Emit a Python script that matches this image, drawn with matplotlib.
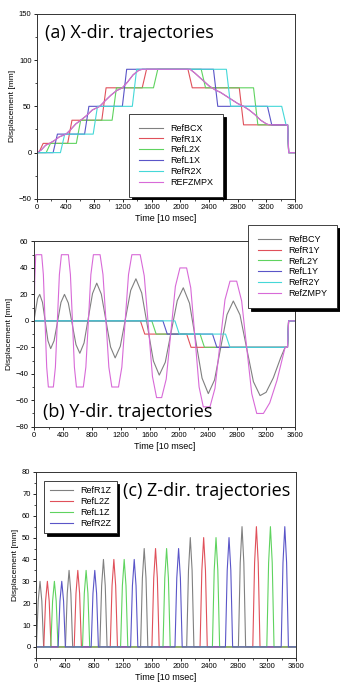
import matplotlib
matplotlib.use("Agg")
import matplotlib.pyplot as plt
from matplotlib.ticker import MultipleLocator

# ---- (a) X-direction trajectories ----
body_x_t = [0, 60, 120, 175, 240, 310, 405, 470, 540, 610, 690, 770, 875, 950, 1030, 1110, 1190, 1260, 1340, 1420,
            1470, 2135, 2200, 2300, 2400, 2480, 2560, 2640, 2720, 2800, 2880, 2960, 3040, 3120, 3200, 3240, 3495, 3510, 3600]
body_x = [0, 3, 8, 10, 13, 17, 20, 25, 31, 35, 40, 46, 50, 56, 62, 67, 70, 76, 84, 89,
          90, 90, 86, 79, 72, 68, 65, 61, 57, 53, 50, 46, 41, 35, 31, 30, 30, 0, 0]
zmp_x = [0, 3, 8, 10, 13, 17, 20, 25, 31, 35, 40, 46, 50, 56, 62, 67, 70, 76, 84, 89,
         90, 90, 86, 79, 72, 68, 65, 61, 57, 53, 50, 46, 41, 35, 31, 30, 30, 0, 0]

r1x_t = [0, 25, 85, 427, 487, 903, 963, 1467, 1527, 2105, 2165, 2821, 2881, 3495, 3510, 3600]
r1x = [0, 0, 10, 10, 35, 35, 70, 70, 90, 90, 70, 70, 30, 30, 0, 0]
l2x_t = [0, 127, 187, 548, 608, 1047, 1107, 1624, 1684, 2290, 2350, 3020, 3080, 3495, 3510, 3600]
l2x = [0, 0, 10, 10, 35, 35, 70, 70, 90, 90, 70, 70, 30, 30, 0, 0]
l1x_t = [0, 224, 284, 663, 723, 1190, 1250, 2461, 2521, 3214, 3274, 3495, 3510, 3600]
l1x = [0, 0, 20, 20, 50, 50, 90, 90, 50, 50, 30, 30, 0, 0]
r2x_t = [0, 326, 386, 783, 843, 1329, 1389, 2641, 2701, 3413, 3473, 3495, 3510, 3600]
r2x = [0, 0, 20, 20, 50, 50, 90, 90, 50, 50, 30, 30, 0, 0]

# ---- (b) Y-direction trajectories ----
body_y_t = [0, 25, 50, 79, 117, 155, 192, 230, 277, 325, 372, 420, 473, 526, 579, 632, 690, 748, 807, 865,
            928, 992, 1055, 1119, 1190, 1262, 1333, 1405, 1485, 1566, 1646, 1727, 1810, 1892, 1975, 2058, 2144, 2230, 2317, 2403,
            2489, 2575, 2661, 2748, 2840, 2932, 3025, 3117, 3200, 3300, 3400, 3462, 3495, 3510, 3600]
body_y = [0, 9, 17, 20, 14, -0.5, -15, -21, -15, -0.5, 14, 20, 13.5, -2.2, -18, -24.5, -16.7, 2, 20.7, 28.5,
          20.2, 0.2, -19.7, -28, -19.2, 1.9, 23, 31.8, 21.1, -4.6, -30.3, -41, -31.3, -8, 15.3, 25, 13.3, -15, -43.3, -55,
          -44.7, -20, 4.7, 15, 4.5, -20.7, -46, -56.5, -54, -43, -28, -20, -20, 0, 0]
zmp_y_t = [0, 10, 24, 106, 129, 152, 175, 198, 267, 295, 322, 350, 378, 474, 502, 530, 557, 585, 680, 715,
           750, 784, 819, 911, 951, 992, 1032, 1073, 1165, 1211, 1257, 1303, 1349, 1464, 1520, 1577, 1633, 1690, 1760, 1823,
           1886, 1949, 2012, 2104, 2161, 2219, 2276, 2334, 2426, 2495, 2564, 2633, 2702, 2794, 2863, 2932, 3002, 3071, 3163, 3250,
           3350, 3462, 3495, 3510, 3600]
zmp_y = [0, 30, 50, 50, 35, 0, -35, -50, -50, -35, 0, 35, 50, 50, 35, 0, -35, -50, -50, -35,
         0, 35, 50, 50, 35, 0, -35, -50, -50, -35, 0, 35, 50, 50, 34, -4, -42, -58, -58, -44,
         -9, 26, 40, 40, 25, -12.5, -50, -65, -65, -51, -17.5, 16, 30, 30, 15, -20, -55, -70, -70, -62,
         -45, -20, -20, 0, 0]

r1y_t = [0, 1467, 1527, 2105, 2165, 3495, 3510, 3600]
r1y = [0, 0, -10, -10, -20, -20, 0, 0]
l2y_t = [0, 1624, 1684, 2290, 2350, 3495, 3510, 3600]
l2y = [0, 0, -10, -10, -20, -20, 0, 0]
l1y_t = [0, 1777, 1837, 2461, 2521, 3495, 3510, 3600]
l1y = [0, 0, -10, -10, -20, -20, 0, 0]
r2y_t = [0, 1943, 2003, 2641, 2701, 3495, 3510, 3600]
r2y = [0, 0, -10, -10, -20, -20, 0, 0]

# ---- (c) Z-direction trajectories ----
r1z_t = [0, 5, 30, 55, 80, 105, 407, 432, 457, 482, 507, 883, 908, 933, 958, 983, 1447, 1472, 1497, 1522, 1547,
         2085, 2110, 2135, 2160, 2185, 2801, 2826, 2851, 2876, 2901, 3600]
l2z_t = [0, 107, 132, 157, 182, 207, 528, 553, 578, 603, 628, 1027, 1052, 1077, 1102, 1127, 1604, 1629, 1654, 1679, 1704,
         2270, 2295, 2320, 2345, 2370, 3000, 3025, 3050, 3075, 3100, 3600]
l1z_t = [0, 204, 229, 254, 279, 304, 643, 668, 693, 718, 743, 1170, 1195, 1220, 1245, 1270, 1757, 1782, 1807, 1832, 1857,
         2441, 2466, 2491, 2516, 2541, 3194, 3219, 3244, 3269, 3294, 3600]
r2z_t = [0, 306, 331, 356, 381, 406, 763, 788, 813, 838, 863, 1309, 1334, 1359, 1384, 1409, 1923, 1948, 1973, 1998, 2023,
         2621, 2646, 2671, 2696, 2721, 3393, 3418, 3443, 3468, 3493, 3600]
z_lift = [0, 0, 21, 30, 21, 0, 0, 24.5, 35, 24.5, 0, 0, 28, 40, 28, 0, 0, 31.5, 45, 31.5, 0,
          0, 35, 50, 35, 0, 0, 38.5, 55, 38.5, 0, 0]

C_GRAY = "#808080"
C_RED = "#e0505a"
C_GREEN = "#5fd35f"
C_BLUE = "#5a55c8"
C_CYAN = "#45d8d8"
C_MAG = "#d86ad8"

TICK_FONT = "Liberation Sans"
TITLE_FONT = "Open Sans"
LW = 0.8


def style_axes(ax, ylim, ymaj, ymin):
    ax.set_xlim(0, 3600)
    ax.set_ylim(*ylim)
    ax.xaxis.set_major_locator(MultipleLocator(400))
    ax.xaxis.set_minor_locator(MultipleLocator(200))
    ax.yaxis.set_major_locator(MultipleLocator(ymaj))
    ax.yaxis.set_minor_locator(MultipleLocator(ymin))
    ax.tick_params(which="major", direction="out", length=2.5, width=0.6, labelsize=5.5, pad=1.5)
    ax.tick_params(which="minor", direction="out", length=1.5, width=0.5)
    for lab in ax.get_xticklabels() + ax.get_yticklabels():
        lab.set_family(TICK_FONT)
    for sp in ax.spines.values():
        sp.set_linewidth(0.7)
        sp.set_color("#333333")
    ax.set_xlabel("Time [10 msec]", fontsize=6.5, family=TICK_FONT, labelpad=2)
    ax.set_ylabel("Displacement [mm]", fontsize=6, family=TICK_FONT, labelpad=2)


def make_legend(target, borderpad=0.9, **kw):
    leg = target.legend(prop={"family": TICK_FONT, "size": 6.5}, fancybox=False, framealpha=1,
                        edgecolor="#222222", shadow={"color": "black", "alpha": 1.0},
                        handlelength=2.6, handletextpad=0.8, labelspacing=0.2,
                        borderpad=borderpad, borderaxespad=0, **kw)
    leg.get_frame().set_linewidth(0.6)
    return leg


fig = plt.figure(figsize=(3.4, 6.86), dpi=100)
ax_a = fig.add_axes([0.109, 0.710, 0.759, 0.270])
ax_b = fig.add_axes([0.100, 0.378, 0.768, 0.270])
ax_c = fig.add_axes([0.106, 0.041, 0.765, 0.271])

# (a)
ax_a.plot(body_x_t, body_x, color=C_GRAY, lw=LW, label="RefBCX")
ax_a.plot(r1x_t, r1x, color=C_RED, lw=LW, label="RefR1X")
ax_a.plot(l2x_t, l2x, color=C_GREEN, lw=LW, label="RefL2X")
ax_a.plot(l1x_t, l1x, color=C_BLUE, lw=LW, label="RefL1X")
ax_a.plot(r2x_t, r2x, color=C_CYAN, lw=LW, label="RefR2X")
ax_a.plot(body_x_t, zmp_x, color=C_MAG, lw=LW, label="REFZMPX")
style_axes(ax_a, (-50, 150), 50, 25)
make_legend(ax_a, borderpad=1.1, loc="lower left", bbox_to_anchor=(0.357, 0.012))
ax_a.text(0.03, 0.895, "(a) X-dir. trajectories", transform=ax_a.transAxes,
          fontsize=13, family=TITLE_FONT, va="center", ha="left")

# (b)
hb = []
hb += ax_b.plot(body_y_t, body_y, color=C_GRAY, lw=LW, label="RefBCY")
hb += ax_b.plot(r1y_t, r1y, color=C_RED, lw=LW, label="RefR1Y")
hb += ax_b.plot(l2y_t, l2y, color=C_GREEN, lw=LW, label="RefL2Y")
hb += ax_b.plot(l1y_t, l1y, color=C_BLUE, lw=LW, label="RefL1Y")
hb += ax_b.plot(r2y_t, r2y, color=C_CYAN, lw=LW, label="RefR2Y")
hb += ax_b.plot(zmp_y_t, zmp_y, color=C_MAG, lw=LW, label="RefZMPY")
style_axes(ax_b, (-80, 60), 20, 10)
make_legend(fig, handles=hb, borderpad=1.1, loc="upper left", bbox_to_anchor=(0.729, 0.672))
ax_b.text(0.035, 0.08, "(b) Y-dir. trajectories", transform=ax_b.transAxes,
          fontsize=13, family=TITLE_FONT, va="center", ha="left")

# (c)
ax_c.plot(r1z_t, z_lift, color=C_GRAY, lw=LW, label="RefR1Z")
ax_c.plot(l2z_t, z_lift, color=C_RED, lw=LW, label="RefL2Z")
ax_c.plot(l1z_t, z_lift, color=C_GREEN, lw=LW, label="RefL1Z")
ax_c.plot(r2z_t, z_lift, color=C_BLUE, lw=LW, label="RefR2Z")
style_axes(ax_c, (-5, 80), 10, 5)
make_legend(ax_c, borderpad=0.6, loc="upper left", bbox_to_anchor=(0.031, 0.952))
ax_c.text(0.335, 0.9, "(c) Z-dir. trajectories", transform=ax_c.transAxes,
          fontsize=13, family=TITLE_FONT, va="center", ha="left")

fig.savefig("out.png", dpi=100)
